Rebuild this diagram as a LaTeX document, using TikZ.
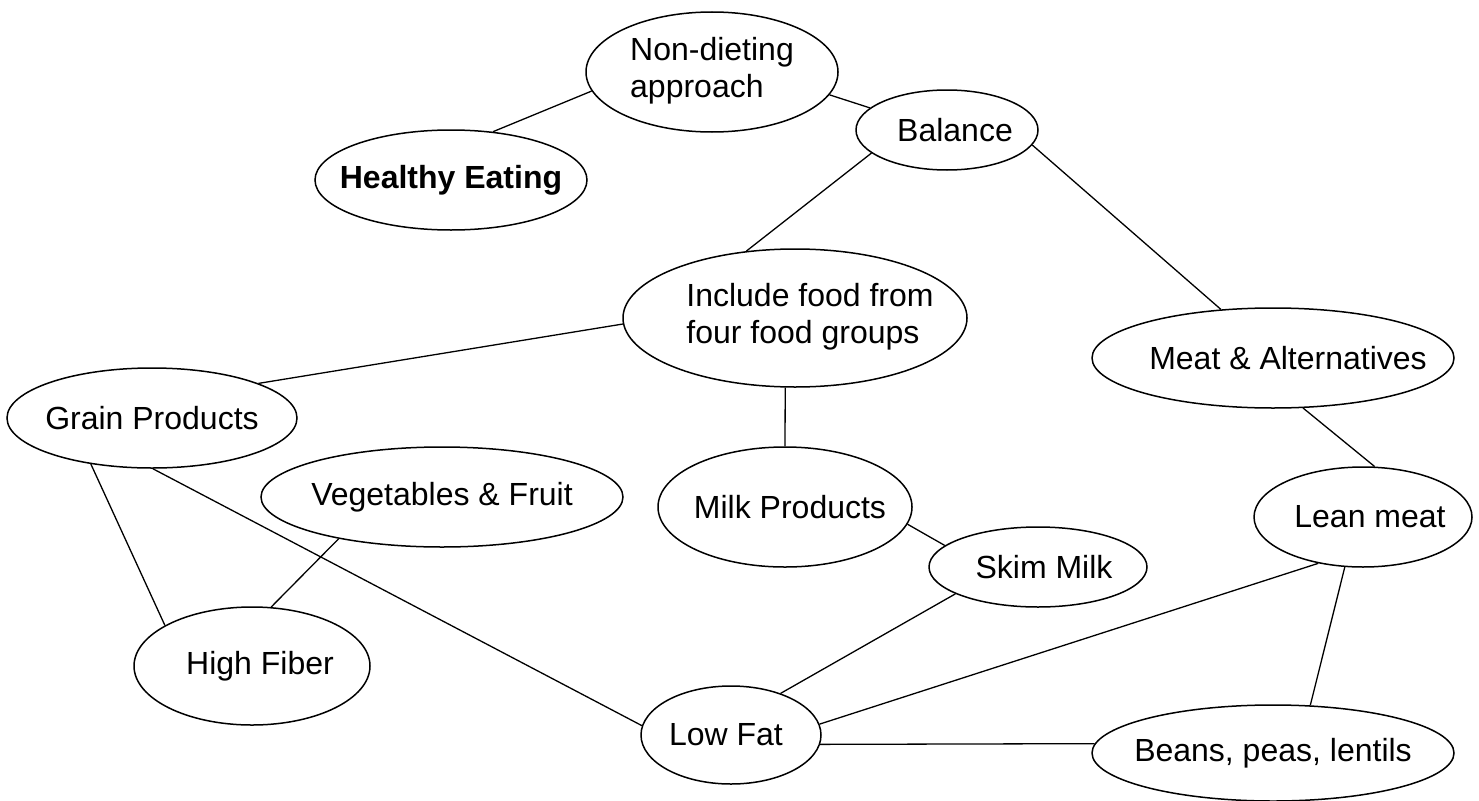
\documentclass[tikz,border=0pt]{standalone}
\usepackage{fontspec}
\setmainfont{Liberation Sans}
\usepackage{tikz}
\usetikzlibrary{shapes.geometric,positioning}
\newcommand{\topicfont}{\fontsize{32}{37}\selectfont}
% text boxes of zero width, so the ellipse keeps its given size
\newcommand{\zw}[2][0pt]{\makebox[0pt]{\hspace*{#1}#2}}
\newcommand{\zwtwo}[3][0pt]{\makebox[0pt]{\hspace*{#1}\begin{tabular}{@{}l@{}}#2\\#3\end{tabular}}}
\tikzset{
  topic/.style={draw, ellipse, line width=1.5pt, inner sep=0pt, font=\topicfont},
  dims/.style 2 args={minimum width=#1, minimum height=#2},
  link/.style={line width=1.3pt},
}

\begin{document}
\begin{tikzpicture}[x=1pt,y=-1pt]
          \path[fill=white] (0,0) rectangle (1479,800);
          \useasboundingbox (0,0) rectangle (1479,800);
          % top
          \node[topic, dims={252pt}{120pt}] (nondiet) at (712,72) {\zwtwo{Non-dieting}{approach}};
          \node[topic, dims={272pt}{100pt}, font=\topicfont\bfseries] (healthy) at (451,180) {\zw{Healthy Eating}};
          \node[topic, dims={182pt}{80pt}] (balance) at (947,130) {\zw[16pt]{Balance}};
          % food groups
          \node[topic, dims={344pt}{138pt}] (foodgroups) at (795,318) {\zwtwo[30pt]{Include food from}{four food groups}};
          \node[topic, dims={362pt}{100pt}] (meat) at (1273,358) {\zw[30pt]{Meat \& Alternatives}};
          \node[topic, dims={290pt}{100pt}] (grain) at (152,418) {\zw{Grain Products}};
          \node[topic, dims={362pt}{100pt}] (vegfruit) at (442,497) {\zw{Vegetables \& Fruit}};
          \node[topic, dims={254pt}{120pt}] (milk) at (785,507) {\zw[10pt]{\raisebox{-7pt}{Milk Products}}};
          % choices
          \node[topic, dims={218pt}{100pt}] (lean) at (1363,517) {\zw[14pt]{Lean meat}};
          \node[topic, dims={218pt}{80pt}] (skim) at (1038,567) {\zw[12pt]{Skim Milk}};
          \node[topic, dims={236pt}{118pt}] (fiber) at (252,666) {\zw[16pt]{High Fiber}};
          \node[topic, dims={180pt}{98pt}] (lowfat) at (731,735) {\zw[-10pt]{Low Fat}};
          \node[topic, dims={362pt}{96pt}] (beans) at (1273,753) {\zw{Beans, peas, lentils}};
          % links
          \draw[link] (healthy.49) -- (nondiet.189);
          \draw[link] (nondiet.349) -- (balance.164);
          \draw[link] (balance.197) -- (foodgroups.126);
          \draw[link] (balance.350) -- (meat.137);
          \draw[link] (foodgroups.182) -- (grain.18);
          \draw[link] (foodgroups.262) -- (milk.90);
          \draw[link] (milk.352) -- (skim.167);
          \draw[link] (meat.301) -- (lean.77);
          \draw[link] (grain.217) -- (fiber.155);
          \draw[link] (grain.271) -- (lowfat.174);
          \draw[link] (vegfruit.202) -- (fiber.72);
          \draw[link] (skim.198) -- (lowfat.40);
          \draw[link] (lean.226) -- (lowfat.7);
          \draw[link] (lean.250) -- (beans.52);
          \draw[link] (lowfat.354) -- (beans.177);
\end{tikzpicture}
\end{document}
